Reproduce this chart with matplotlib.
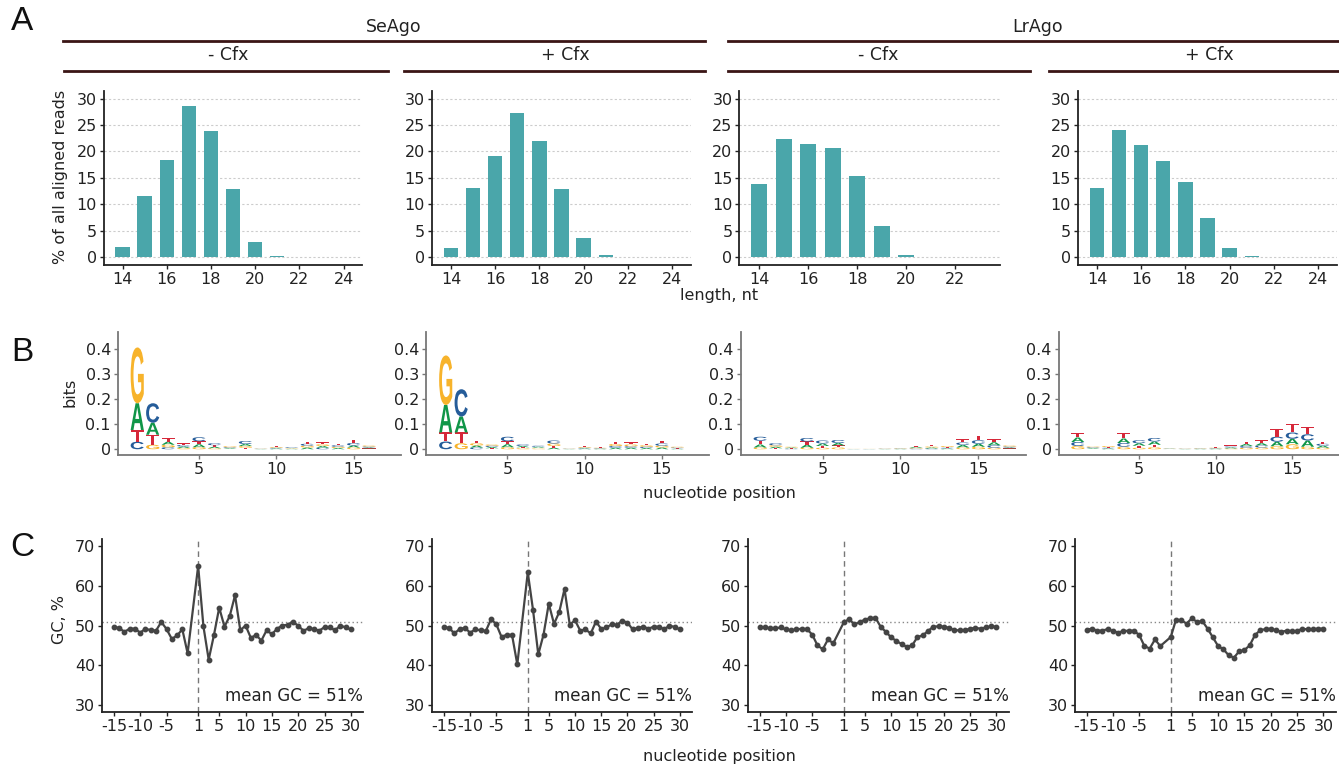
import matplotlib
matplotlib.use("Agg")
import matplotlib.pyplot as plt
from matplotlib.textpath import TextPath
from matplotlib.font_manager import FontProperties
from matplotlib.patches import PathPatch
from matplotlib.transforms import Affine2D
from matplotlib.lines import Line2D

plt.rcParams["font.family"] = ["DejaVu Sans"]
plt.rcParams["axes.unicode_minus"] = False

W, H = 1339, 766

# ---------------- A: read length distributions (% of all aligned reads)
lengths = [14, 15, 16, 17, 18, 19, 20, 21, 22, 23, 24]
lengths_lr_minus = [14, 15, 16, 17, 18, 19, 20, 21, 22, 23]
se_minus_len = [2.0, 11.5, 18.3, 28.6, 23.8, 12.8, 2.8, 0.15, 0.05, 0.02, 0.0]
se_plus_len = [1.8, 13.1, 19.2, 27.2, 22.0, 12.8, 3.6, 0.4, 0.1, 0.03, 0.0]
lr_minus_len = [13.9, 22.3, 21.5, 20.6, 15.3, 5.8, 0.45, 0.1, 0.02, 0.0]
lr_plus_len = [13.1, 24.1, 21.2, 18.2, 14.3, 7.45, 1.8, 0.2, 0.05, 0.02, 0.0]

# ---------------- B: sequence logos (bits per letter, per position)
se_minus_logo = {
    "A": [.107, .048, .012, .006, .012, .006, .003, .008, .001, .003, .002, .007, .007, .005, .008, .004],
    "C": [.030, .078, .008, .006, .016, .008, .003, .012, .001, .003, .003, .008, .006, .006, .010, .004],
    "G": [.223, .018, .010, .005, .008, .004, .004, .007, .001, .003, .002, .007, .007, .005, .007, .004],
    "T": [.047, .040, .014, .007, .012, .006, .002, .006, .001, .004, .002, .008, .008, .006, .012, .003],
}
se_plus_logo = {
    "A": [.110, .064, .008, .005, .012, .005, .004, .006, .001, .003, .002, .006, .006, .005, .007, .002],
    "C": [.031, .109, .007, .005, .018, .006, .004, .012, .001, .003, .002, .007, .006, .005, .009, .003],
    "G": [.198, .024, .009, .005, .008, .004, .003, .010, .001, .003, .002, .008, .007, .006, .007, .003],
    "T": [.036, .043, .010, .004, .012, .004, .003, .007, .000, .003, .003, .009, .008, .006, .010, .002],
}
lr_minus_logo = {
    "A": [.012, .006, .003, .012, .010, .010, .0005, .0005, .001, .0015, .004, .004, .003, .010, .012, .012, .004],
    "C": [.016, .008, .002, .014, .012, .012, .0005, .0005, .001, .0015, .003, .003, .003, .010, .014, .010, .004],
    "G": [.007, .006, .003, .006, .006, .007, .0005, .0005, .001, .0015, .003, .004, .004, .007, .010, .006, .004],
    "T": [.015, .004, .002, .013, .007, .008, .0005, .0005, .001, .0015, .004, .005, .003, .013, .018, .013, .003],
}
lr_plus_logo = {
    "A": [.018, .003, .003, .018, .010, .013, .001, .001, .0015, .002, .004, .008, .009, .018, .022, .025, .008],
    "C": [.016, .003, .003, .015, .012, .014, .001, .001, .0015, .002, .004, .007, .008, .020, .025, .025, .008],
    "G": [.013, .003, .004, .010, .006, .008, .001, .001, .0015, .002, .003, .006, .007, .012, .020, .010, .006],
    "T": [.018, .002, .003, .021, .008, .010, .0008, .001, .0015, .002, .004, .009, .011, .030, .035, .030, .008],
}

# ---------------- C: GC content around the guide (positions -15..-1, 1..30)
gc_pos = list(range(-15, 0)) + list(range(1, 31))
se_minus_gc = [49.6, 49.4, 48.4, 49.2, 49.2, 48.2, 49.2, 48.8, 48.7, 50.9, 49.1, 46.6, 47.5, 49.0, 43.0,
               65.0, 49.8, 41.4, 47.6, 54.5, 49.7, 52.4, 57.6, 48.8, 50.0, 46.9, 47.6, 46.2, 48.8, 47.8,
               49.2, 50.0, 50.2, 51.0, 49.9, 48.7, 49.3, 49.1, 48.7, 49.6, 49.5, 48.8, 50.0, 49.5, 49.0]
se_plus_gc = [49.6, 49.4, 48.0, 49.1, 49.4, 48.2, 49.0, 48.8, 48.6, 51.6, 50.3, 47.1, 47.7, 47.6, 40.2,
              63.4, 53.9, 42.7, 47.7, 55.5, 50.4, 53.4, 59.2, 50.2, 51.3, 48.7, 49.0, 48.0, 51.0, 49.1,
              49.5, 50.3, 50.2, 51.2, 50.7, 49.0, 49.4, 49.7, 49.2, 49.7, 49.7, 49.0, 50.0, 49.6, 49.0]
lr_minus_gc = [49.5, 49.5, 49.3, 49.3, 49.5, 49.0, 48.8, 49.0, 49.2, 49.1, 47.7, 45.0, 44.0, 46.5, 45.5,
               50.8, 51.6, 50.3, 50.8, 51.5, 51.8, 52.0, 49.7, 48.4, 47.0, 46.1, 45.3, 44.6, 45.0, 47.1,
               47.5, 48.6, 49.7, 49.8, 49.7, 49.4, 48.8, 48.8, 48.8, 49.2, 49.4, 49.2, 49.5, 49.8, 49.7]
lr_plus_gc = [48.9, 49.2, 48.7, 48.7, 49.1, 48.6, 48.2, 48.6, 48.7, 48.7, 47.6, 44.8, 44.2, 46.5, 44.8,
              47.1, 51.5, 51.3, 50.5, 51.8, 50.9, 51.1, 49.2, 47.0, 44.8, 44.0, 42.5, 41.9, 43.5, 43.8,
              45.0, 47.6, 48.8, 49.1, 49.2, 48.8, 48.4, 48.7, 48.6, 48.6, 49.2, 49.0, 49.1, 49.2, 49.2]
mean_gc = 50.9

BAR_COLOR = "#4aa6aa"
LOGO_COLORS = {"A": "#109648", "C": "#255C99", "G": "#F7B32B", "T": "#D62839"}
TICK_SIZE = 11.5
LABEL_SIZE = 11.5
DARK = "#222222"

fig = plt.figure(figsize=(W / 100, H / 100), dpi=100)


def add_ax(x0, x1, ytop, ybot):
    return fig.add_axes([x0 / W, 1 - ybot / H, (x1 - x0) / W, (ybot - ytop) / H])


def style(ax, spine_color=DARK):
    for s in ["top", "right"]:
        ax.spines[s].set_visible(False)
    for s in ["left", "bottom"]:
        ax.spines[s].set_color(spine_color)
        ax.spines[s].set_linewidth(1.3)
    ax.tick_params(length=3, width=1, colors=spine_color, labelcolor=DARK,
                   labelsize=TICK_SIZE, pad=2)


# ---------- row A
a_cols = [(103.6, 362.5), (432, 691), (739.5, 999.5), (1078, 1337)]
a_data = [(lengths, se_minus_len), (lengths, se_plus_len),
          (lengths_lr_minus, lr_minus_len), (lengths, lr_plus_len)]
for (x0, x1), (xs, ys) in zip(a_cols, a_data):
    ax = add_ax(x0, x1, 90.7, 265)
    style(ax)
    ax.set_axisbelow(True)
    ax.yaxis.grid(True, linestyle=(0, (2, 2)), color="#cccccc", linewidth=0.8)
    ax.bar(xs, ys, width=0.65, color=BAR_COLOR)
    span = max(xs) - min(xs) + 0.65
    ax.set_xlim(min(xs) - 0.325 - 0.05 * span, max(xs) + 0.325 + 0.05 * span)
    ax.set_ylim(-1.5, 31.5)
    ax.set_yticks([0, 5, 10, 15, 20, 25, 30])
    ax.set_xticks([t for t in [14, 16, 18, 20, 22, 24] if t <= max(xs)])
fig.text(60 / W, 1 - 177 / H, "% of all aligned reads", rotation=90, ha="center", va="center",
         fontsize=LABEL_SIZE, color=DARK)
fig.text(719 / W, 1 - 296 / H, "length, nt", ha="center", va="center", fontsize=LABEL_SIZE,
         color=DARK)

# strips
strip_color = "#3a1515"
for (x0, x1, y) in [(62.5, 705, 41), (727.7, 1339, 41), (64, 387.5, 71), (404, 705, 71),
                    (727.7, 1030, 71), (1049, 1339, 71)]:
    fig.add_artist(Line2D([x0 / W, x1 / W], [1 - y / H, 1 - y / H], color=strip_color, lw=2))
for (x, y, s) in [(394, 27, "SeAgo"), (1038, 27, "LrAgo"), (228, 55, "- Cfx"), (565, 55, "+ Cfx"),
                  (878, 55, "- Cfx"), (1209, 55, "+ Cfx")]:
    fig.text(x / W, 1 - y / H, s, ha="center", va="center", fontsize=12.5, color=DARK)

# ---------- row B
logo_font = FontProperties(family="Liberation Sans", weight="bold")
letter_paths = {}
for L in "ACGT":
    tp = TextPath((0, 0), L, size=1, prop=logo_font)
    letter_paths[L] = (tp, tp.get_extents())


def draw_logo(ax, logo):
    n = len(logo["A"])
    for i in range(n):
        heights = sorted((logo[L][i], L) for L in "ACGT")
        y0 = 0.0
        for h, L in heights:
            if h <= 0:
                continue
            tp, bb = letter_paths[L]
            w = 0.85
            tr = (Affine2D().translate(-bb.x0, -bb.y0)
                  .scale(w / bb.width, h / bb.height)
                  .translate(i + 1 - w / 2, y0))
            ax.add_patch(PathPatch(tp, transform=tr + ax.transData, facecolor=LOGO_COLORS[L],
                                   edgecolor="none"))
            y0 += h


b_cols = [(117.9, 400.7), (426.4, 709), (740.7, 1026), (1058.6, 1339)]
for (x0, x1), logo in zip(b_cols, [se_minus_logo, se_plus_logo, lr_minus_logo, lr_plus_logo]):
    ax = add_ax(x0, x1, 331.7, 455)
    style(ax, spine_color="#777777")
    draw_logo(ax, logo)
    ax.set_xlim(-0.25, 18.05)
    ax.set_ylim(-0.023, 0.47)
    ax.set_xticks([5, 10, 15])
    ax.set_yticks([0, 0.1, 0.2, 0.3, 0.4])
    ax.set_yticklabels(["0", "0.1", "0.2", "0.3", "0.4"])
fig.text(70 / W, 1 - 392 / H, "bits", rotation=90, ha="center", va="center",
         fontsize=LABEL_SIZE, color=DARK)
fig.text(719 / W, 1 - 493 / H, "nucleotide position", ha="center", va="center",
         fontsize=LABEL_SIZE, color=DARK)

# ---------- row C
c_cols = [(102.3, 363), (432.3, 692), (748, 1008.5), (1075, 1335.5)]
for (x0, x1), gc in zip(c_cols, [se_minus_gc, se_plus_gc, lr_minus_gc, lr_plus_gc]):
    ax = add_ax(x0, x1, 539, 712)
    style(ax)
    ax.axhline(mean_gc, color="#888888", lw=1, linestyle=(0, (1, 2)))
    ax.axvline(1, color="#777777", lw=1, linestyle=(0, (4, 3)))
    ax.plot(gc_pos, gc, color="#444444", lw=1.6, marker="o", ms=3.2)
    ax.set_xlim(-17.2, 32.3)
    ax.set_ylim(28.2, 71.8)
    ax.set_xticks([-15, -10, -5, 1, 5, 10, 15, 20, 25, 30])
    ax.set_yticks([30, 40, 50, 60, 70])
    ax.text(32.3, 32.2, "mean GC = 51%", ha="right", va="center", fontsize=12, color=DARK)
fig.text(60 / W, 1 - 620 / H, "GC, %", rotation=90, ha="center", va="center",
         fontsize=LABEL_SIZE, color=DARK)
fig.text(719 / W, 1 - 756 / H, "nucleotide position", ha="center", va="center",
         fontsize=LABEL_SIZE, color=DARK)

# panel letters
for (y, s) in [(22, "A"), (352, "B"), (548, "C")]:
    fig.text(22 / W, 1 - y / H, s, ha="center", va="center", fontsize=24,
             family="Liberation Sans", color="#111111")

fig.savefig("out.png", dpi=100)
